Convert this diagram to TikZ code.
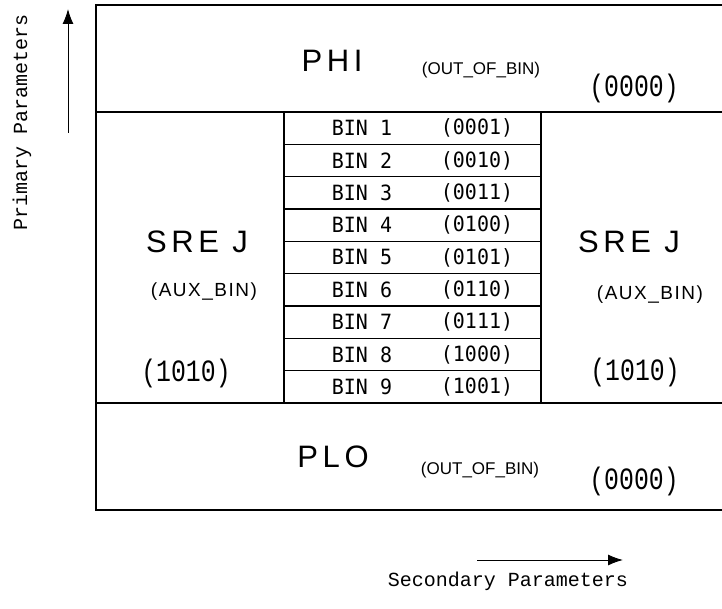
\documentclass[tikz,border=0pt]{standalone}
\usepackage{fontspec}
\usetikzlibrary{positioning, arrows.meta}
\newfontfamily\axisfont{Liberation Mono}
\newfontfamily\binfont{DejaVu Sans Mono}[FakeStretch=0.95]
\newfontfamily\codefont{Liberation Mono}[FakeStretch=0.8]
\newfontfamily\zonefont{Liberation Sans}[LetterSpace=15]
\newfontfamily\outfont{Liberation Sans}
\newfontfamily\auxfont{Liberation Sans}[LetterSpace=8]
\colorlet{rule}{black}
\tikzset{
  frame/.style    ={draw=rule, line width=1.6pt},
  bincell/.style  ={draw=rule, line width=1.3pt, minimum width=257pt,
                    minimum height=32.33pt, inner sep=0pt},
  bintxt/.style   ={font=\binfont\fontsize{21}{21}\selectfont, inner sep=0pt},
  zone/.style     ={font=\zonefont\fontsize{31}{31}\selectfont, inner sep=0pt},
  outtag/.style   ={font=\outfont\fontsize{17}{17}\selectfont, inner sep=0pt},
  auxtag/.style   ={font=\auxfont\fontsize{19}{19}\selectfont, inner sep=0pt},
  code/.style     ={font=\codefont\fontsize{31}{31}\selectfont, inner sep=0pt},
  axislbl/.style  ={font=\axisfont\fontsize{20}{20}\selectfont, inner sep=0pt},
  axisarrow/.style={-{Latex[length=15pt, width=11pt]}, rule, line width=1pt},
}
\begin{document}
\begin{tikzpicture}[x=1pt, y=-1pt]
\useasboundingbox (0,0) rectangle (722,609);

% outer frame (open on the right)
\coordinate (TR) at (722,5);
\coordinate (TL) at (96,5);
\coordinate (BL) at (96,510);
\coordinate (BR) at (722,510);
\draw[frame] (TR) -- (TL) -- (BL) -- (BR);
\draw[frame] (96,112) -- (722,112);
\draw[frame] (96,403) -- (722,403);

% PHI band
\node[zone]   (phi)     at (332, 61) {PHI};
\node[outtag] (phiout)  at (481, 70) {(OUT\_OF\_BIN)};
\node[code]   (phicode) at (634, 88) {(0000)};

% bin column
\foreach \i/\c in {1/0001, 2/0010, 3/0011, 4/0100, 5/0101,
                   6/0110, 7/0111, 8/1000, 9/1001} {
  \node[bincell] (bin\i) at (412.5, 112 + \i*32.33 - 16.17) {};
  \node[bintxt] (binname\i) at (362, 112 + \i*32.33 - 16.17) {BIN \i};
  \node[bintxt] (bincode\i) at (477, 112 + \i*32.33 - 16.17) {(\c)};
}

% SREJ zones
\node[zone]   (srejL)     at (197, 242) {SRE J};
\node[auxtag] (auxL)      at (204, 292) {(AUX\_BIN)};
\node[code]   (srejLcode) at (186, 373) {(1010)};
\node[zone]   (srejR)     at (629, 242) {SRE J};
\node[auxtag] (auxR)      at (650, 295) {(AUX\_BIN)};
\node[code]   (srejRcode) at (635, 372) {(1010)};

% PLO band
\node[zone]   (plo)     at (333, 457) {PLO};
\node[outtag] (ploout)  at (480, 470) {(OUT\_OF\_BIN)};
\node[code]   (plocode) at (634, 481) {(0000)};

% axes
\node[axislbl, rotate=90] (prim) at (22, 122) {Primary Parameters};
\coordinate (primtail) at (68, 133);
\coordinate (primhead) at (68, 9);
\draw[axisarrow] (primtail) -- (primhead);

\node[axislbl] (sec) at (508, 581) {Secondary Parameters};
\coordinate (sectail) at (477, 560);
\coordinate (sechead) at (623, 560);
\draw[axisarrow] (sectail) -- (sechead);

\end{tikzpicture}
\end{document}
